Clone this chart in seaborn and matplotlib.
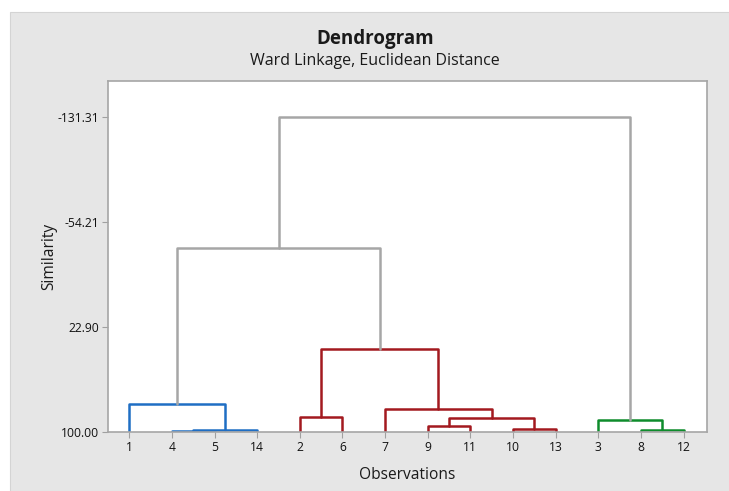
import numpy as np
import pandas as pd
import seaborn as sns
import matplotlib.pyplot as plt
from matplotlib.patches import Rectangle

# leaves in plotted order
leaf_labels = ["1", "4", "5", "14", "2", "6", "7", "9", "11", "10", "13", "3", "8", "12"]

# merges: child a, child b (0-13 leaves, 14+ earlier merges), similarity, colour group
merge_a = [1, 14, 0, 4, 7, 9, 18, 6, 17, 12, 11, 16, 24]
merge_b = [2, 3, 15, 5, 8, 10, 19, 20, 21, 13, 23, 22, 25]
merge_sim = [99.3, 98.2, 79.4, 89.2, 95.6, 97.8, 89.9, 83.3, 39.0, 98.5, 91.2, -35.1, -131.31]
merge_group = ["blue", "blue", "blue", "red", "red", "red", "red", "red", "red",
               "green", "green", "gray", "gray"]

sim_ticks = [100.00, 22.90, -54.21, -131.31]

palette = {"blue": "#1f6ec4", "red": "#a3191f", "green": "#0e8c2c", "gray": "#a6a6a6"}

# build segment table
pos = {i: i + 1 for i in range(len(leaf_labels))}
hgt = {i: 100.0 for i in range(len(leaf_labels))}
rows = []
for k, (a, b, s, g) in enumerate(zip(merge_a, merge_b, merge_sim, merge_group)):
    xs = [pos[a], pos[a], pos[b], pos[b]]
    ys = [hgt[a], s, s, hgt[b]]
    for x, y in zip(xs, ys):
        rows.append({"x": x, "y": y, "seg": k, "group": g})
    new = len(leaf_labels) + k
    pos[new] = (pos[a] + pos[b]) / 2
    hgt[new] = s
df = pd.DataFrame(rows)

sns.set_theme(style="white")
plt.rcParams["font.family"] = ["Open Sans", "DejaVu Sans"]

fig = plt.figure(figsize=(7.29, 4.91), dpi=100)
fig.patch.set_facecolor("white")
fig.patches.append(Rectangle((10 / 729, 0), 1, 1 - 12 / 491, transform=fig.transFigure,
                             facecolor="#e6e6e6", edgecolor="#d4d4d4", lw=0.8, zorder=-10))
ax = fig.add_axes([108 / 729, 59 / 491, 599 / 729, 351 / 491])
ax.set_zorder(1)

sns.lineplot(data=df, x="x", y="y", units="seg", hue="group", palette=palette,
             estimator=None, sort=False, legend=False, lw=1.8, ax=ax)

ax.set_xlim(0.5, 14.55)
ax.set_ylim(100, -157.8)
ax.set_xticks(range(1, len(leaf_labels) + 1))
ax.set_xticklabels(leaf_labels)
ax.set_yticks(sim_ticks)
ax.set_yticklabels([f"{t:.2f}" for t in sim_ticks])
ax.tick_params(axis="both", labelsize=8.7, length=4, width=0.8, color="#a0a0a0",
               labelcolor="#111111", pad=2.5, direction="out")
ax.tick_params(axis="x", bottom=True)
ax.tick_params(axis="y", left=True)
for sp in ax.spines.values():
    sp.set_color("#a6a6a6")
    sp.set_linewidth(1.2)

ax.set_xlabel("Observations", fontsize=11.2, color="#1a1a1a", labelpad=9)
ax.set_ylabel("Similarity", fontsize=11.2, color="#1a1a1a", labelpad=0)

fig.text(375 / 729, 1 - 39 / 491, "Dendrogram", ha="center", va="center",
         fontsize=13.5, fontweight="bold", color="#1a1a1a")
fig.text(375 / 729, 1 - 61 / 491, "Ward Linkage, Euclidean Distance", ha="center",
         va="center", fontsize=11.5, color="#1a1a1a")

fig.savefig("out.png", dpi=100, facecolor=fig.get_facecolor())
